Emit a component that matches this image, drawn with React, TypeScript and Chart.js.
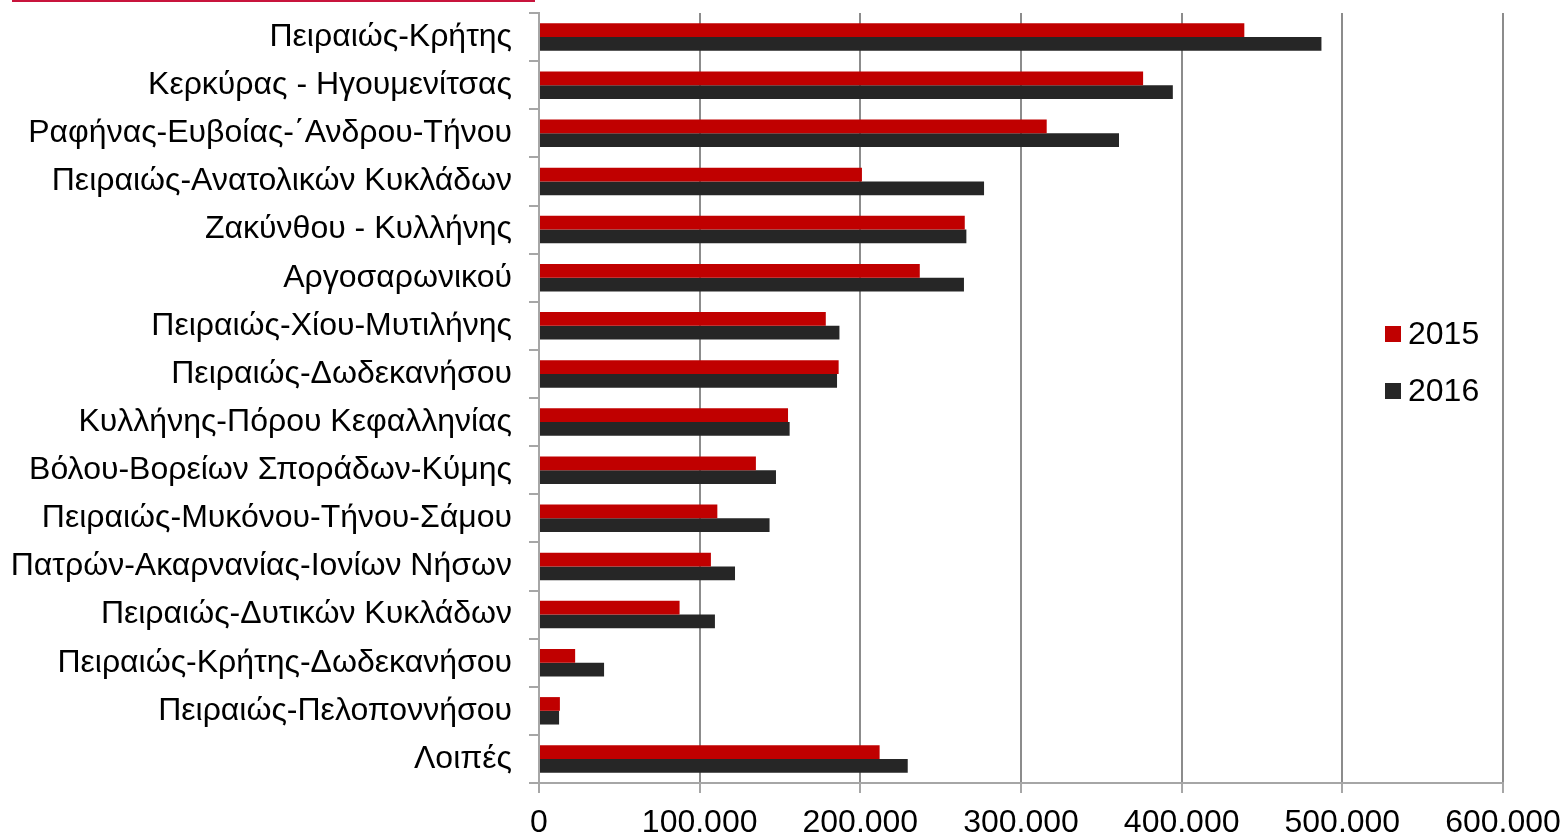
import React, { useEffect, useRef } from "react";
import { Chart, registerables } from "chart.js";

Chart.register(...registerables);

const categories = [
  "Πειραιώς-Κρήτης",
  "Κερκύρας - Ηγουμενίτσας",
  "Ραφήνας-Ευβοίας-΄Ανδρου-Τήνου",
  "Πειραιώς-Ανατολικών Κυκλάδων",
  "Ζακύνθου - Κυλλήνης",
  "Αργοσαρωνικού",
  "Πειραιώς-Χίου-Μυτιλήνης",
  "Πειραιώς-Δωδεκανήσου",
  "Κυλλήνης-Πόρου Κεφαλληνίας",
  "Βόλου-Βορείων Σποράδων-Κύμης",
  "Πειραιώς-Μυκόνου-Τήνου-Σάμου",
  "Πατρών-Ακαρνανίας-Ιονίων Νήσων",
  "Πειραιώς-Δυτικών Κυκλάδων",
  "Πειραιώς-Κρήτης-Δωδεκανήσου",
  "Πειραιώς-Πελοποννήσου",
  "Λοιπές",
];

const values2015 = [439000, 376000, 316000, 201000, 265000, 237000, 178500, 186500, 155000, 135000, 111000, 107000, 87500, 22500, 13000, 212000];
const values2016 = [487000, 394500, 361000, 277000, 266000, 264500, 187000, 185500, 156000, 147500, 143500, 122000, 109500, 40500, 12500, 229500];

const seriesLabels = ["2015", "2016"];
const xTicks = [0, 100000, 200000, 300000, 400000, 500000, 600000];

const RED = "#c00000";
const DARK = "#262626";
const FONT = "'Liberation Sans', Arial, sans-serif";

function fmt(v: number): string {
  const s = Math.round(v).toString();
  return s.replace(/\B(?=(\d{3})+(?!\d))/g, ".");
}

const legendPlugin = {
  id: "customLegend",
  afterDraw(chart: any) {
    const ctx = chart.ctx;
    ctx.save();
    // top decoration line
    ctx.fillStyle = "#c8143c";
    ctx.fillRect(12, 0, 523, 2);
    const ds = chart.data.datasets;
    const startY = 334;
    const gap = 57;
    ds.forEach((d: any, i: number) => {
      const cy = startY + i * gap;
      ctx.fillStyle = d.backgroundColor;
      ctx.fillRect(1385, cy - 8, 16, 16);
      ctx.fillStyle = "#000";
      ctx.font = `32px ${FONT}`;
      ctx.textBaseline = "middle";
      ctx.textAlign = "left";
      ctx.fillText(d.label, 1408, cy + 1);
    });
    ctx.restore();
  },
};

export default function App() {
  const ref = useRef<HTMLCanvasElement | null>(null);
  useEffect(() => {
    if (!ref.current) return;
    const chart = new Chart(ref.current, {
      type: "bar",
      data: {
        labels: categories,
        datasets: [
          { label: seriesLabels[0], data: values2015, backgroundColor: RED, borderWidth: 0 },
          { label: seriesLabels[1], data: values2016, backgroundColor: DARK, borderWidth: 0 },
        ],
      },
      plugins: [legendPlugin],
      options: {
        indexAxis: "y",
        animation: false,
        responsive: false,
        layout: { padding: { top: 13, right: 59, left: 0, bottom: 0 } },
        datasets: { bar: { categoryPercentage: 0.57, barPercentage: 1.0 } },
        plugins: { legend: { display: false }, tooltip: { enabled: false } },
        scales: {
          x: {
            min: 0,
            max: 600000,
            afterBuildTicks(scale: any) {
              scale.ticks = xTicks.map((v) => ({ value: v }));
            },
            afterFit(scale: any) {
              scale.height = 52;
              scale.paddingLeft = 0;
              scale.paddingRight = 0;
            },
            ticks: {
              callback: (v: any) => fmt(Number(v)),
              color: "#000",
              font: { family: FONT, size: 32 },
              padding: 11,
              maxRotation: 0,
            },
            grid: {
              color: "#8c8c8c",
              lineWidth: 2,
              tickLength: 10,
              tickColor: "#a6a6a6",
            },
            border: { color: "#a6a6a6", width: 2 },
          },
          y: {
            afterFit(scale: any) {
              scale.width = 539;
              scale.paddingTop = 0;
              scale.paddingBottom = 0;
            },
            ticks: {
              color: "#000",
              font: { family: FONT, size: 32 },
              padding: 17,
              autoSkip: false,
            },
            grid: {
              offset: true,
              drawOnChartArea: false,
              tickLength: 10,
              color: "#a6a6a6",
              lineWidth: 2,
            },
            border: { color: "#a6a6a6", width: 2 },
          },
        },
      },
    } as any);
    return () => chart.destroy();
  }, []);
  return (
    <div style={{ position: "fixed", left: 0, top: 0, width: 1562, height: 835, background: "#fff" }}>
      <canvas ref={ref} width={1562} height={835} />
    </div>
  );
}
